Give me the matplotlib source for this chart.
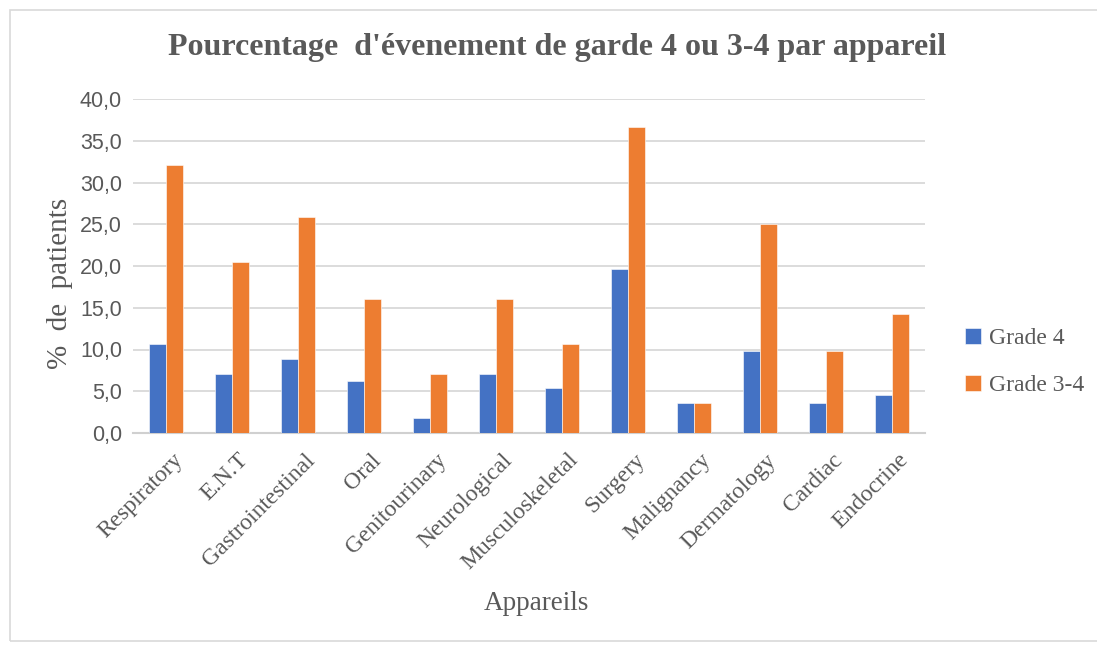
import numpy as np
import matplotlib
matplotlib.use("Agg")
import matplotlib.pyplot as plt
import matplotlib.patches as patches
import matplotlib.transforms as mtransforms

categories = ['Respiratory', 'E.N.T', 'Gastrointestinal', 'Oral', 'Genitourinary',
              'Neurological', 'Musculoskeletal', 'Surgery', 'Malignancy',
              'Dermatology', 'Cardiac', 'Endocrine']
grade4 = [10.7, 7.1, 8.9, 6.2, 1.8, 7.1, 5.4, 19.6, 3.6, 9.8, 3.6, 4.5]
grade34 = [32.1, 20.5, 25.9, 16.1, 7.1, 16.1, 10.7, 36.6, 3.6, 25.0, 9.8, 14.3]
yticks = [0, 5, 10, 15, 20, 25, 30, 35, 40]

serif = 'Liberation Serif'
gray = '#595959'

fig = plt.figure(figsize=(10.97, 6.46), dpi=100)
ax = fig.add_axes([133 / 1097, 1 - 433 / 646, (925 - 133) / 1097, (433 - 99) / 646])

# chart frame
fig.patches.append(patches.Rectangle((10 / 1097, 0.008), 1.2, 1 - 10 / 646 - 0.008,
                                     transform=fig.transFigure, fill=False,
                                     edgecolor='#D9D9D9', linewidth=1.2))

x = np.arange(len(categories))
w = 0.265
ax.bar(x - w / 2, grade4, w, color='#4472C4', label='Grade 4', zorder=3,
       edgecolor='white', linewidth=0.4)
ax.bar(x + w / 2, grade34, w, color='#ED7D31', label='Grade 3-4', zorder=3,
       edgecolor='white', linewidth=0.4)

ax.set_xlim(-0.5, len(categories) - 0.5)
ax.set_ylim(0, 40)
ax.set_yticks(yticks)
ax.set_yticklabels([f'{v:.1f}'.replace('.', ',') for v in yticks],
                   fontfamily='Liberation Sans', fontsize=15.5, color=gray)
ax.yaxis.grid(True, color='#D9D9D9', linewidth=1.3, zorder=0)
ax.set_axisbelow(True)
for s in ['top', 'right', 'left']:
    ax.spines[s].set_visible(False)
ax.spines['bottom'].set_color('#D0D0D0')
ax.spines['bottom'].set_linewidth(1.5)
ax.tick_params(axis='both', length=0)
ax.tick_params(axis='y', pad=8)

ax.set_xticks(x)
ax.set_xticklabels(categories, rotation=45, ha='right', rotation_mode='anchor',
                   fontfamily=serif, fontsize=17, color=gray)
ax.tick_params(axis='x', pad=4)
shift = mtransforms.ScaledTranslation(6 / 100, -11 / 100, fig.dpi_scale_trans)
for lbl in ax.get_xticklabels():
    lbl.set_transform(lbl.get_transform() + shift)

fig.text(60 / 1097, 1 - 283 / 646, '%  de  patients', fontfamily=serif, fontsize=21,
         color=gray, rotation=90, ha='center', va='center')
fig.text(536 / 1097, 1 - 603 / 646, 'Appareils', fontfamily=serif, fontsize=19.5,
         color=gray, ha='center', va='center')
fig.text(557 / 1097, 1 - 48 / 646, "Pourcentage  d'évenement de garde 4 ou 3-4 par appareil",
         fontfamily=serif, fontsize=23, fontweight='bold', color=gray,
         ha='center', va='center')

leg = ax.legend(loc='center left', bbox_to_anchor=(944 / 1097, 1 - 362 / 646),
                bbox_transform=fig.transFigure, frameon=False,
                prop={'family': serif, 'size': 17}, handlelength=0.65,
                handleheight=0.65, handletextpad=0.35, labelspacing=1.1)
for t in leg.get_texts():
    t.set_color(gray)

fig.savefig('out.png', dpi=100, facecolor='white')
